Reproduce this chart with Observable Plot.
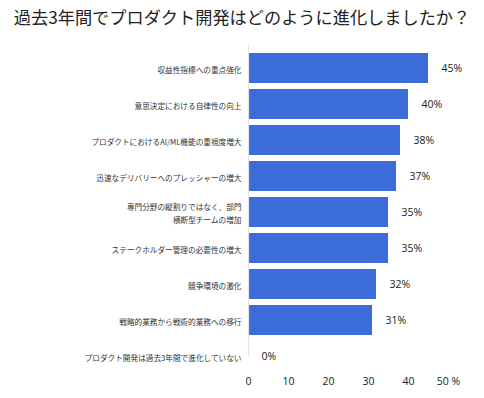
<!DOCTYPE html>
<html>
<head>
<meta charset="utf-8">
<script src="https://cdn.jsdelivr.net/npm/d3@7"></script>
<script src="https://cdn.jsdelivr.net/npm/@observablehq/plot@0.6"></script>
<style>
  html, body { margin: 0; padding: 0; background: #fff; }
  #title { height: 34px; line-height: 34px; text-align: center; font-family: "Noto Sans CJK JP", sans-serif; font-size: 17.2px; color: #222; width: 484px; white-space: nowrap; }
  #chart svg { display: block; }
</style>
</head>
<body>
<div id="title">過去3年間でプロダクト開発はどのように進化しましたか？</div>
<div id="chart"></div>
<script>
const categories = [
  "収益性指標への重点強化",
  "意思決定における自律性の向上",
  "プロダクトにおけるAI/ML機能の重視度増大",
  "迅速なデリバリーへのプレッシャーの増大",
  "専門分野の縦割りではなく、部門\n横断型チームの増加",
  "ステークホルダー管理の必要性の増大",
  "競争環境の激化",
  "戦略的業務から戦術的業務への移行",
  "プロダクト開発は過去3年間で進化していない"
];
const values = [45, 40, 38, 37, 35, 35, 32, 31, 0];
const xTicks = [0, 10, 20, 30, 40, 50];

const data = categories.map((c, i) => ({category: c, value: values[i]}));

const chart = Plot.plot({
  width: 484,
  height: 364,
  marginLeft: 248,
  marginRight: 36,
  marginTop: 16,
  marginBottom: 24,
  style: {background: "#fff"},
  x: {domain: [0, 50], ticks: xTicks, axis: null},
  y: {domain: categories, paddingInner: 0.17, paddingOuter: 0.085, axis: null},
  marks: [
    Plot.barX(data, {x: "value", y: "category", fill: "#3b6cd8"}),
    Plot.ruleX([0], {stroke: "#e2e2e2", strokeWidth: 1.2, insetTop: -5, insetBottom: 18}),
    Plot.text(data, {x: 0, y: "category", text: "category", dx: -7, textAnchor: "end",
      lineAnchor: "middle", lineHeight: 1.65, fontSize: 7.65, fill: "#333",
      fontFamily: "Noto Sans CJK JP"}),
    Plot.text(data, {x: "value", y: "category", text: d => d.value + "%", dx: 13, textAnchor: "start",
      fontSize: 10.5, fill: "#222", fontFamily: "Open Sans"}),
    Plot.axisX({ticks: xTicks, tickSize: 0, tickPadding: 3, anchor: "bottom",
      tickFormat: d => d === 50 ? "50 %" : String(d),
      fontSize: 10.5, fontFamily: "Open Sans", color: "#222", label: null})
  ]
});
document.getElementById("chart").appendChild(chart);
</script>
</body>
</html>
